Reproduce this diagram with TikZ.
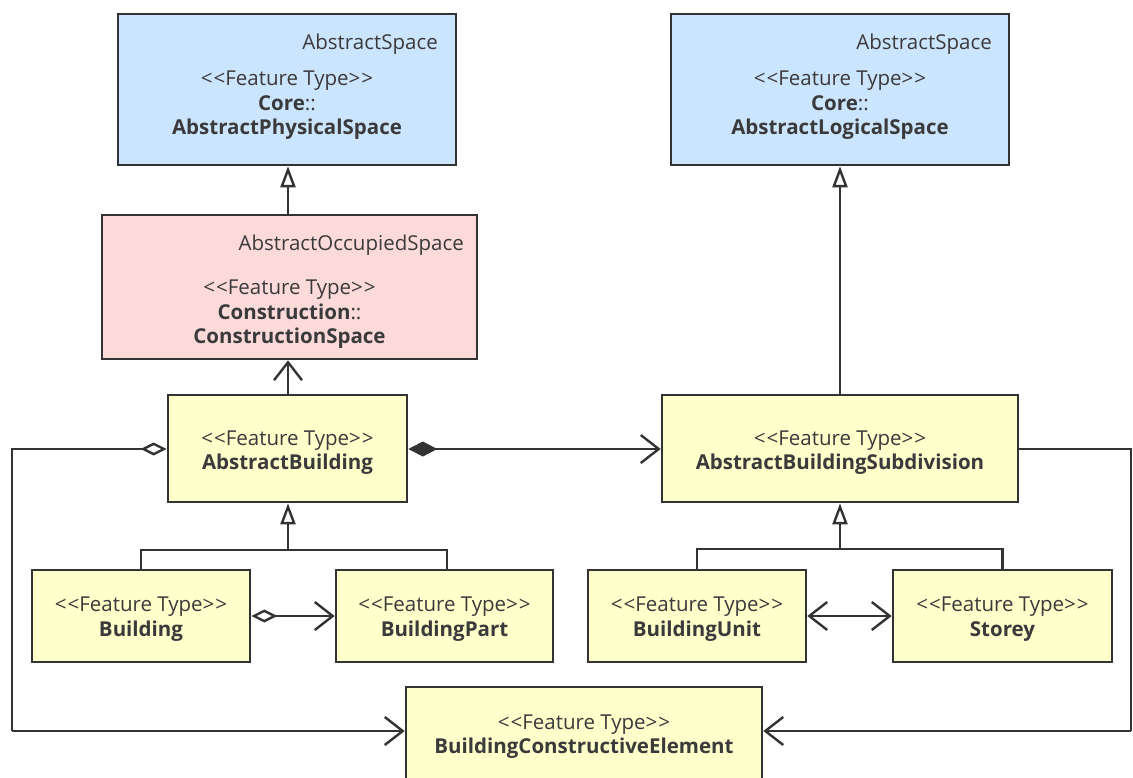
\documentclass[tikz,border=0pt]{standalone}
\usepackage{fontspec}
\setmainfont{Open Sans}
\usetikzlibrary{arrows.meta}
\definecolor{ln}{HTML}{333333}
\definecolor{txt}{HTML}{3A3A3A}
\definecolor{bluef}{HTML}{CCE5FF}
\definecolor{pinkf}{HTML}{FDDADA}
\definecolor{yelf}{HTML}{FFFFCC}
\newcommand{\ftype}{<\kern1pt<Feature Type>\kern1pt>}
\tikzset{
  box/.style={draw=ln, line width=2.6pt, inner sep=0pt, rectangle},
  tx/.style={text=txt, font=\fontsize{20.5}{24.5}\selectfont, align=center, inner sep=0pt, yshift=-2.5pt},
  conn/.style={draw=ln, line width=2.4pt},
  gen/.style={conn, -{Triangle[open, fill=white, length=21pt, width=15pt, line width=2.4pt]}},
  assoc/.style={conn, -{Straight Barb[length=18pt, width=28pt, line width=2.4pt]}},
  agg/.style={conn, {Diamond[open, fill=white, length=26pt, width=13pt, line width=2.4pt]}-{Straight Barb[length=18pt, width=28pt, line width=2.4pt]}},
  comp/.style={conn, {Diamond[length=29pt, width=15pt]}-{Straight Barb[length=18pt, width=28pt, line width=2.4pt]}},
  bi/.style={conn, {Straight Barb[length=18pt, width=28pt, line width=2.4pt]}-{Straight Barb[length=18pt, width=28pt, line width=2.4pt]}},
}
\begin{document}
\begin{tikzpicture}[x=1pt, y=-1pt]
\useasboundingbox (0,0) rectangle (1133,777);
% boxes
\node[box, fill=bluef, minimum width=338pt, minimum height=151pt] (aps) at (287,89.5) {};
\node[box, fill=bluef, minimum width=338pt, minimum height=151pt] (als) at (840,89.5) {};
\node[box, fill=pinkf, minimum width=375pt, minimum height=144pt] (cs) at (289.5,287) {};
\node[box, fill=yelf, minimum width=239pt, minimum height=107pt] (ab) at (287.5,448.5) {};
\node[box, fill=yelf, minimum width=356pt, minimum height=107pt] (abs) at (840,448.5) {};
\node[box, fill=yelf, minimum width=218pt, minimum height=92pt] (bld) at (141,616) {};
\node[box, fill=yelf, minimum width=217pt, minimum height=92pt] (bp) at (444.5,616) {};
\node[box, fill=yelf, minimum width=218pt, minimum height=92pt] (bu) at (697,616) {};
\node[box, fill=yelf, minimum width=219pt, minimum height=92pt] (st) at (1002.5,616) {};
\node[box, fill=yelf, minimum width=356pt, minimum height=94pt] (bce) at (584,734) {};
% texts
\node[tx, anchor=east] (aps-s) at (438,42) {AbstractSpace};
\node[tx] (aps-t) at (287,103) {\ftype\\\textbf{Core}::\\\textbf{AbstractPhysicalSpace}};
\node[tx, anchor=east] (als-s) at (992,42) {AbstractSpace};
\node[tx] (als-t) at (840,103) {\ftype\\\textbf{Core}::\\\textbf{AbstractLogicalSpace}};
\node[tx, anchor=east] (cs-s) at (464,243) {AbstractOccupiedSpace};
\node[tx] (cs-t) at (289.5,312) {\ftype\\\textbf{Construction}::\\\textbf{ConstructionSpace}};
\node[tx] (ab-t) at (287.5,450) {\ftype\\\textbf{AbstractBuilding}};
\node[tx] (abs-t) at (840,450) {\ftype\\\textbf{AbstractBuildingSubdivision}};
\node[tx] (bld-t) at (141,616.5) {\ftype\\\textbf{Building}};
\node[tx] (bp-t) at (444.5,616.5) {\ftype\\\textbf{BuildingPart}};
\node[tx] (bu-t) at (697,616.5) {\ftype\\\textbf{BuildingUnit}};
\node[tx] (st-t) at (1002.5,616.5) {\ftype\\\textbf{Storey}};
\node[tx] (bce-t) at (584,734) {\ftype\\\textbf{BuildingConstructiveElement}};
% junctions
\coordinate (j1) at (288,550);
\coordinate (j2) at (840,549);
\coordinate (cl1) at (12,449);
\coordinate (cl2) at (12,731);
\coordinate (cr1) at (1131,449);
\coordinate (cr2) at (1131,731);
% connectors
\draw[gen] (cs.north -| 288,0) -- (aps.south -| 288,0);
\draw[assoc] (ab.north -| 288,0) -- (cs.south -| 288,0);
\draw[gen] (abs.north) -- (als.south);
\draw[conn] (bld.north) |- (j1) -| (bp.north -| 447,0);
\draw[gen] (j1) -- (ab.south -| j1);
\draw[conn] (bu.north) |- (j2) -| (st.north);
\draw[gen] (j2) -- (abs.south -| j2);
\draw[comp] (ab.east |- cl1) -- (abs.west |- cl1);
\draw[conn, {Diamond[open, fill=white, length=26pt, width=13pt, line width=2.4pt]}-] (ab.west |- cl1) -- (cl1) -- (cl2);
\draw[assoc] (cl2) -- (bce.west |- cl2);
\draw[conn] (abs.east |- cr1) -- (cr1) -- (cr2);
\draw[assoc] (cr2) -- (bce.east |- cr2);
\draw[agg] (bld.east) -- (bp.west);
\draw[bi] (bu.east) -- (st.west);
\end{tikzpicture}
\end{document}
